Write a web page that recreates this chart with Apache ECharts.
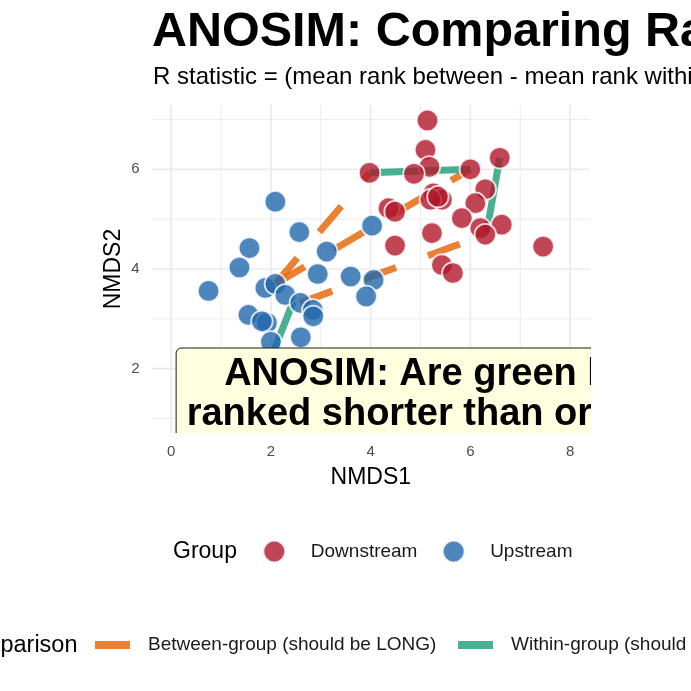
<!DOCTYPE html>
<html>
<head>
<meta charset="utf-8">
<script src="https://cdn.jsdelivr.net/npm/echarts@6/dist/echarts.min.js"></script>
<style>
html,body{margin:0;padding:0;background:#fff;}
#chart{width:691px;height:691px;}
</style>
</head>
<body>
<div id="chart"></div>
<script>
// ---------- data ----------
const downstreamX = [5.14, 5.10, 5.18, 3.98, 4.87, 6.00, 6.59, 6.30, 5.26, 5.43, 5.20, 5.35, 4.36, 4.49, 6.10, 5.83, 6.63, 6.20, 6.30, 5.23, 4.49, 7.46, 5.43, 5.65];
const downstreamY = [6.98, 6.39, 6.05, 5.93, 5.91, 6.00, 6.23, 5.60, 5.52, 5.39, 5.39, 5.45, 5.22, 5.15, 5.32, 5.02, 4.89, 4.82, 4.69, 4.72, 4.47, 4.45, 4.08, 3.92];
const upstreamX = [2.09, 2.57, 1.57, 1.37, 3.12, 4.03, 0.75, 2.94, 3.60, 4.06, 3.91, 1.89, 2.09, 2.29, 2.59, 2.84, 2.85, 1.55, 1.92, 1.82, 2.60, 2.00];
const upstreamY = [5.35, 4.74, 4.42, 4.03, 4.35, 4.87, 3.56, 3.90, 3.85, 3.78, 3.45, 3.62, 3.70, 3.48, 3.32, 3.18, 3.05, 3.08, 2.92, 2.95, 2.63, 2.54];

// segments: [x1, y1, x2, y2]
const betweenSegments = [
  [2.09, 3.70, 3.98, 5.93],
  [2.09, 3.70, 6.00, 6.00],
  [2.59, 3.32, 6.30, 4.69]
];
const withinSegments = [
  [3.98, 5.93, 6.00, 6.00],
  [6.59, 6.23, 6.33, 4.75],
  [2.45, 3.35, 1.72, 1.50]
];

const xTickLabels = [0, 2, 4, 6, 8];
const yTickLabels = [2, 4, 6];
const xMajorGrid = [0, 2, 4, 6, 8];
const xMinorGrid = [1, 3, 5, 7];
const yMajorGrid = [2, 4, 6];
const yMinorGrid = [1, 3, 5, 7];

const groupNames = ['Downstream', 'Upstream'];
const comparisonNames = ['Between-group (should be LONG)', 'Within-group (should be SHORT)'];

const titleText = 'ANOSIM: Comparing Ranked Distances';
const subtitleText = 'R statistic = (mean rank between - mean rank within) / (M/2)';
const annotationLines = ['ANOSIM: Are green lines (within-group)', 'ranked shorter than orange lines (between-group)?'];

// ---------- build ----------
const FONT = '"Liberation Sans", Arial, Helvetica, sans-serif';
const X_MIN = -0.39, X_MAX = 8.40, Y_MIN = 0.71, Y_MAX = 7.29;

const zip = (xs, ys) => xs.map((x, i) => [x, ys[i]]);

const gridData = []
  .concat(xMajorGrid.map(v => [0, v, 1]))
  .concat(xMinorGrid.map(v => [0, v, 0]))
  .concat(yMajorGrid.map(v => [1, v, 1]))
  .concat(yMinorGrid.map(v => [1, v, 0]));

const series = [];

series.push({
  type: 'custom',
  name: 'grid',
  silent: true,
  z: 0,
  clip: true,
  data: gridData,
  encode: { x: 1, y: 1 },
  renderItem: function (params, api) {
    const cs = params.coordSys;
    const o = api.value(0), v = api.value(1), major = api.value(2);
    const lw = major ? 1.7 : 0.9;
    if (o === 0) {
      const p = api.coord([v, (Y_MIN + Y_MAX) / 2]);
      return { type: 'line', shape: { x1: p[0], y1: cs.y, x2: p[0], y2: cs.y + cs.height },
        style: { stroke: '#EBEBEB', lineWidth: lw } };
    } else {
      const p = api.coord([(X_MIN + X_MAX) / 2, v]);
      return { type: 'line', shape: { x1: cs.x, y1: p[1], x2: cs.x + cs.width, y2: p[1] },
        style: { stroke: '#EBEBEB', lineWidth: lw } };
    }
  }
});

const BETWEEN_COLOR = 'rgba(230,97,1,0.8)';
const WITHIN_COLOR = 'rgba(27,158,119,0.8)';

betweenSegments.forEach(s => {
  series.push({
    type: 'line', name: comparisonNames[0], z: 2, silent: true,
    symbol: 'none', showSymbol: false, animation: false,
    data: [[s[0], s[1]], [s[2], s[3]]],
    itemStyle: { color: BETWEEN_COLOR },
    lineStyle: { color: BETWEEN_COLOR, width: 7, type: [34, 34], cap: 'butt' }
  });
});
withinSegments.forEach(s => {
  series.push({
    type: 'line', name: comparisonNames[1], z: 2, silent: true,
    symbol: 'none', showSymbol: false, animation: false,
    data: [[s[0], s[1]], [s[2], s[3]]],
    itemStyle: { color: WITHIN_COLOR },
    lineStyle: { color: WITHIN_COLOR, width: 7, type: 'solid', cap: 'butt' }
  });
});

series.push({
  type: 'scatter', name: groupNames[0], z: 3, symbol: 'circle', symbolSize: 21.5,
  data: zip(downstreamX, downstreamY),
  itemStyle: { color: 'rgba(178,24,43,0.8)', borderColor: 'rgba(255,255,255,0.8)', borderWidth: 1.8, opacity: 1 }
});
series.push({
  type: 'scatter', name: groupNames[1], z: 3, symbol: 'circle', symbolSize: 21.5,
  data: zip(upstreamX, upstreamY),
  itemStyle: { color: 'rgba(33,102,172,0.8)', borderColor: 'rgba(255,255,255,0.8)', borderWidth: 1.8, opacity: 1 }
});

series.push({
  type: 'custom', name: 'annotation', z: 10, silent: true, clip: true,
  data: [[0.10, 2.415]],
  renderItem: function (params, api) {
    const p = api.coord([api.value(0), api.value(1)]);
    return {
      type: 'group',
      children: [
        { type: 'rect', shape: { x: p[0], y: p[1], width: 800, height: 300, r: 5 },
          style: { fill: '#FFFFE0', stroke: '#1a1a1a', lineWidth: 1 } },
        { type: 'text', x: p[0] + 48, y: p[1] + 26.8,
          style: { text: annotationLines[0], font: 'bold 38px ' + FONT, fill: '#000', align: 'left', verticalAlign: 'middle' } },
        { type: 'text', x: p[0] + 10.5, y: p[1] + 66.2,
          style: { text: annotationLines[1], font: 'bold 38px ' + FONT, fill: '#000', align: 'left', verticalAlign: 'middle' } }
      ]
    };
  }
});

const option = {
  animation: false,
  backgroundColor: '#ffffff',
  textStyle: { fontFamily: FONT },
  title: [
    { text: titleText, left: 152, top: 8.5, padding: 0,
      textStyle: { fontSize: 48.5, fontWeight: 'bold', color: '#000', fontFamily: FONT } },
    { text: subtitleText, left: 153, top: 65, padding: 0,
      textStyle: { fontSize: 24, fontWeight: 'normal', color: '#000', fontFamily: FONT } }
  ],
  grid: { left: 151.7, right: 101, top: 105, bottom: 258, containLabel: false },
  xAxis: {
    type: 'value', min: X_MIN, max: X_MAX,
    name: 'NMDS1', nameLocation: 'middle', nameGap: 33, nameMoveOverlap: false,
    nameTextStyle: { fontSize: 23, color: '#000', fontFamily: FONT },
    axisLine: { show: false }, axisTick: { show: false }, splitLine: { show: false },
    axisLabel: {
      customValues: xTickLabels,
      fontSize: 15, color: '#4D4D4D', margin: 11, fontFamily: FONT,
      formatter: v => (xTickLabels.indexOf(Math.round(v * 1000) / 1000) >= 0 ? String(Math.round(v)) : '')
    }
  },
  yAxis: {
    type: 'value', min: Y_MIN, max: Y_MAX,
    name: 'NMDS2', nameLocation: 'middle', nameGap: 27, nameRotate: 90, nameMoveOverlap: false,
    nameTextStyle: { fontSize: 23, color: '#000', fontFamily: FONT },
    axisLine: { show: false }, axisTick: { show: false }, splitLine: { show: false },
    axisLabel: {
      customValues: yTickLabels,
      fontSize: 15, color: '#4D4D4D', margin: 12, fontFamily: FONT,
      formatter: v => (yTickLabels.indexOf(Math.round(v * 1000) / 1000) >= 0 ? String(Math.round(v)) : '')
    }
  },
  legend: [
    {
      data: groupNames, orient: 'horizontal', left: 262.3, top: 539.5, padding: 0, width: 1200,
      itemWidth: 63, itemHeight: 22, itemGap: 24.2, icon: 'circle', selectedMode: false,
      textStyle: { fontSize: 19, color: '#1a1a1a', fontFamily: FONT }
    },
    {
      data: comparisonNames, orient: 'horizontal', left: 95, top: 635.5, padding: 0, width: 1200,
      itemWidth: 35, itemHeight: 8, itemGap: 21.7, icon: 'rect', selectedMode: false,
      textStyle: { fontSize: 19, color: '#1a1a1a', fontFamily: FONT, padding: [0, 0, 0, 13] }
    }
  ],
  graphic: [
    { type: 'text', left: 173, top: 540, silent: true,
      style: { text: 'Group', font: '23px ' + FONT, fill: '#000' } },
    { type: 'text', x: 77.5, y: 646, silent: true,
      style: { text: 'Comparison', font: '23.5px ' + FONT, fill: '#000', align: 'right', verticalAlign: 'middle' } }
  ],
  series: series
};

const chart = echarts.init(document.getElementById('chart'), null, { renderer: 'canvas' });
chart.setOption(option);
</script>
</body>
</html>
